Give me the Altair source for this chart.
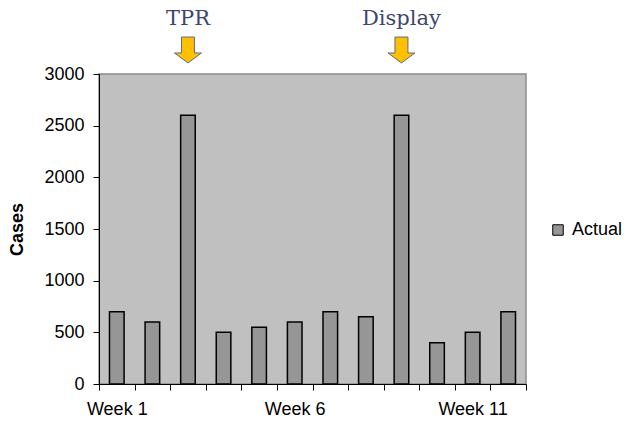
import altair as alt
import pandas as pd

weeks = [f"Week {i}" for i in range(1, 13)]
cases = [700, 600, 2600, 500, 550, 600, 700, 650, 2600, 400, 500, 700]
series_name = ["Actual"] * 12

note_weeks = ["Week 3", "Week 9"]
note_labels = ["TPR", "Display"]

y_ticks = [0, 500, 1000, 1500, 2000, 2500, 3000]
shown_week_labels = ["Week 1", "Week 6", "Week 11"]

df = pd.DataFrame({"week": weeks, "cases": cases, "series": series_name})
notes = pd.DataFrame({"week": note_weeks, "label": note_labels})

FONT = "Liberation Sans"
FS = 18
label_test = " || ".join([f"datum.value == '{w}'" for w in shown_week_labels])

x_enc = alt.X(
    "week:N",
    sort=weeks,
    scale=alt.Scale(paddingInner=0, paddingOuter=0),
    axis=alt.Axis(
        title=None,
        tickBand="extent",
        labelExpr=f"({label_test}) ? datum.label : ''",
        labelOverlap=False,
        labelAngle=0,
        labelFont=FONT,
        labelFontSize=FS,
        labelColor="#000000",
        labelPadding=10,
        tickColor="#000000",
        tickSize=6,
        domainColor="#000000",
        grid=False,
    ),
)

bars = alt.Chart(df).mark_bar(
    width={"band": 0.41}, stroke="#000000", strokeWidth=1.5
).encode(
    x=x_enc,
    y=alt.Y(
        "cases:Q",
        scale=alt.Scale(domain=[0, 3000], nice=False),
        axis=alt.Axis(
            values=y_ticks,
            format="d",
            title="Cases",
            titleFont=FONT,
            titleFontSize=18,
            titleFontWeight="bold",
            titleColor="#000000",
            titleX=-82,
            titleY=155,
            titleBaseline="middle",
            labelFont=FONT,
            labelFontSize=FS,
            labelColor="#000000",
            labelPadding=9,
            tickColor="#000000",
            tickSize=6,
            domainColor="#000000",
            grid=False,
        ),
    ),
    color=alt.Color(
        "series:N",
        scale=alt.Scale(range=["#969696"]),
        legend=alt.Legend(
            title=None,
            orient="none",
            legendX=450,
            legendY=147,
            padding=0,
            symbolType="square",
            symbolSize=110,
            symbolStrokeColor="#000000",
            symbolStrokeWidth=1,
            labelFont=FONT,
            labelFontSize=FS,
            labelColor="#000000",
            labelOffset=5,
        ),
    ),
)

arrow_path = "M-0.48,-0.96L0.48,-0.96L0.48,0.22L1,0.22L0,0.96L-1,0.22L-0.48,0.22Z"

arrows = alt.Chart(notes).mark_point(
    shape=arrow_path, size=729, filled=True, fill="#FFC000",
    stroke="#5B6B8C", strokeWidth=1, opacity=1
).encode(
    x=alt.X("week:N", sort=weeks),
    y=alt.value(-24),
)

texts = alt.Chart(notes).mark_text(
    font="DejaVu Serif", fontSize=21, color="#3E4570", baseline="alphabetic", align="center"
).encode(
    x=alt.X("week:N", sort=weeks),
    y=alt.value(-49),
    text="label:N",
)

chart = alt.layer(bars, arrows, texts).properties(
    width=427,
    height=310,
    padding={"left": 99, "top": 74, "right": 101, "bottom": 40},
    autosize=alt.AutoSizeParams(type="none"),
    background="#FFFFFF",
).configure_view(
    fill="#C0C0C0", stroke="#8C8C8C", strokeWidth=1.5
)

chart.save("out.html", embed_options={"renderer": "svg", "actions": False})
